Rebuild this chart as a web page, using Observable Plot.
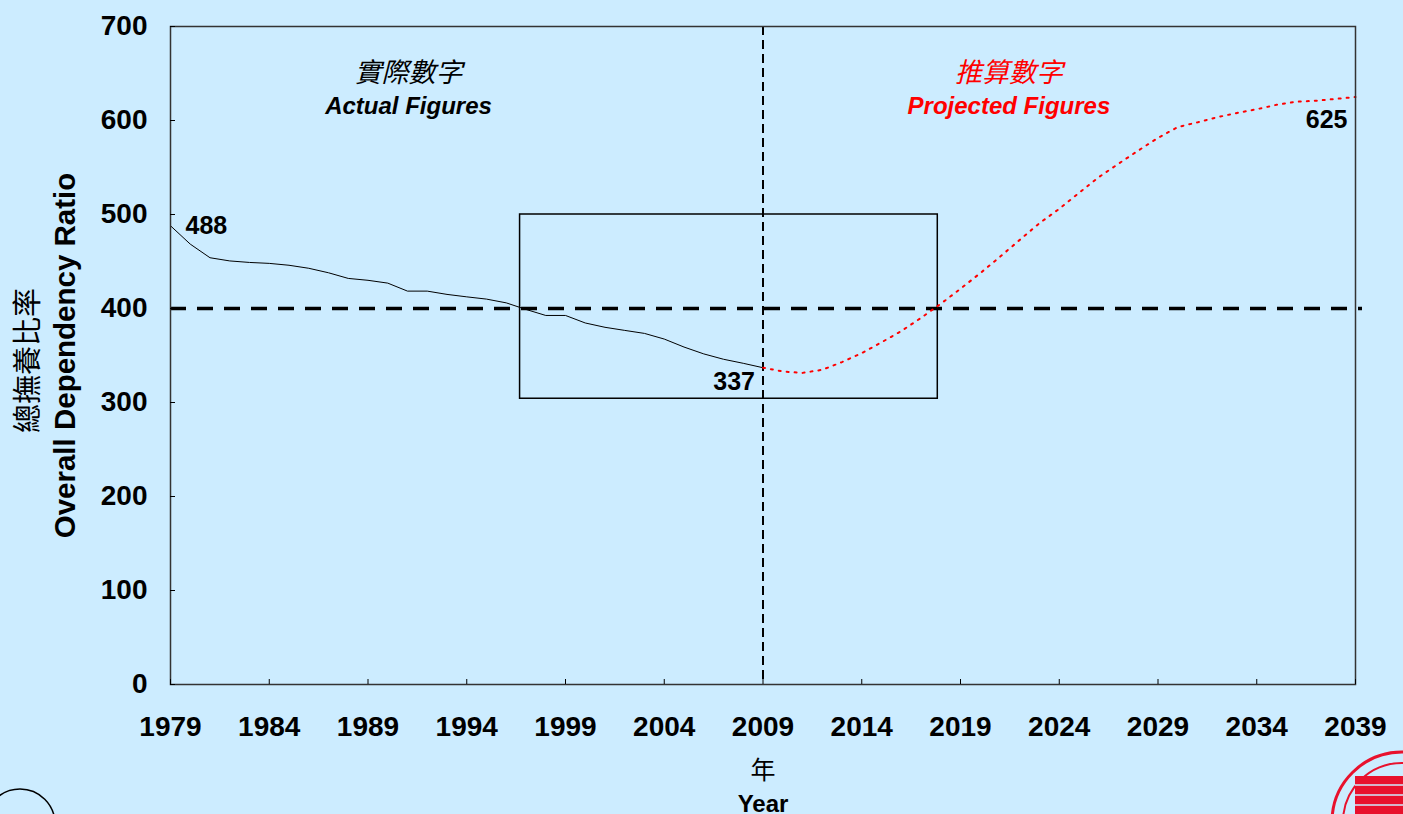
<!DOCTYPE html>
<html>
<head>
<meta charset="utf-8">
<script src="https://cdn.jsdelivr.net/npm/d3@7"></script>
<script src="https://cdn.jsdelivr.net/npm/@observablehq/plot@0.6"></script>
<style>
  html, body { margin: 0; padding: 0; background: #CCECFF; overflow: hidden; }
  #wrap { position: relative; width: 1403px; height: 814px; }
  #deco { position: absolute; left: 0; top: 0; pointer-events: none; }
</style>
</head>
<body>
<div id="wrap">
  <div id="chart"></div>
  <svg id="deco" width="1403" height="814">
    <circle cx="20" cy="824" r="35" fill="none" stroke="#000" stroke-width="1.5"/>
    <circle cx="1402" cy="822" r="70" fill="none" stroke="#E8112D" stroke-width="3"/>
    <circle cx="1402" cy="822" r="59" fill="none" stroke="#E8112D" stroke-width="2"/>
    <rect x="1355" y="776" width="60" height="50" fill="#E8112D"/>
    <line x1="1355" y1="785" x2="1403" y2="785" stroke="#CCECFF" stroke-width="1.5"/>
    <line x1="1355" y1="795" x2="1403" y2="795" stroke="#CCECFF" stroke-width="1.5"/>
    <line x1="1355" y1="805" x2="1403" y2="805" stroke="#CCECFF" stroke-width="1.5"/>
  </svg>
</div>
<script>
// ---- data ----
const actualStartYear = 1979;
const actualValues = [488, 468.5, 454, 450.6, 449, 448, 446, 442.8, 438, 432, 430, 427,
  418.5, 418.5, 415, 412.4, 410, 406, 399, 392.6, 392.6, 384.6, 380, 376.7, 373.5,
  367.5, 359, 351.7, 346, 341.7, 337];
const projectedStartYear = 2009;
const projectedValues = [337, 333, 331.5, 334.8, 343, 352.5, 364, 376, 390, 405, 421,
  437.6, 455, 473, 490.8, 506, 523, 539.7, 554, 568, 581.5, 593, 598, 603.5, 608, 612,
  616.7, 620, 621, 623, 625];
const xTicks = [1979, 1984, 1989, 1994, 1999, 2004, 2009, 2014, 2019, 2024, 2029, 2034, 2039];
const yTicks = [0, 100, 200, 300, 400, 500, 600, 700];
const thresholdValue = [400];
const dividerYear = [2009];
const boxYears = [1996.7, 2017.85];
const boxValues = [304, 500];
const endLabels = [
  {year: 1979, value: 488, text: "488"},
  {year: 2009, value: 337, text: "337"},
  {year: 2039, value: 625, text: "625"}
];
const sectionYears = [1991.05, 2021.45];
const sectionZh = ["實際數字", "推算數字"];
const sectionEn = ["Actual Figures", "Projected Figures"];
const sectionValues = [650, 615];
const yTitleEn = "Overall Dependency Ratio";
const yTitleZh = "總撫養比率";
const xTitleEn = "Year";
const xTitleZh = "年";

const actual = actualValues.map((v, i) => ({year: actualStartYear + i, value: v}));
const projected = projectedValues.map((v, i) => ({year: projectedStartYear + i, value: v}));

const latin = "'Liberation Sans', Arial, sans-serif";
const cjk = "'Noto Sans CJK TC', 'Noto Sans CJK SC', sans-serif";

const chart = Plot.plot({
  width: 1403,
  height: 814,
  marginLeft: 170,
  marginRight: 48,
  marginTop: 26,
  marginBottom: 130,
  style: {background: "#CCECFF", fontFamily: latin, color: "#000", overflow: "visible"},
  x: {domain: [1979, 2039]},
  y: {domain: [0, 700]},
  marks: [
    Plot.rect([0], {x1: () => boxYears[0], x2: () => boxYears[1], y1: () => boxValues[0], y2: () => boxValues[1],
      fill: "none", stroke: "#000", strokeWidth: 1.5}),
    Plot.ruleY(thresholdValue, {stroke: "#000", strokeWidth: 3.5, strokeDasharray: "16,11", insetRight: -7}),
    Plot.ruleX(dividerYear, {stroke: "#000", strokeWidth: 2, strokeDasharray: "9,5"}),
    Plot.line(actual, {x: "year", y: "value", stroke: "#000", strokeWidth: 1}),
    Plot.line(projected, {x: "year", y: "value", stroke: "#FF0000", strokeWidth: 2, strokeDasharray: "2,6"}),
    Plot.frame({stroke: "#333", strokeWidth: 1.5}),
    Plot.axisX({ticks: xTicks, tickFormat: d => String(d), tickSize: -5, tickPadding: 37,
      fontSize: 28, fontWeight: "bold", label: null, stroke: "#000"}),
    Plot.axisY({ticks: yTicks, tickFormat: d => String(d), tickSize: -5, tickPadding: 28,
      fontSize: 28, fontWeight: "bold", label: null, stroke: "#000"}),
    // end labels
    Plot.text([endLabels[0]], {x: "year", y: "value", text: "text", textAnchor: "start", dx: 15, dy: 0,
      fontSize: 25, fontWeight: "bold", fill: "#000"}),
    Plot.text([endLabels[1]], {x: "year", y: "value", text: "text", textAnchor: "end", dx: -8, dy: 14,
      fontSize: 25, fontWeight: "bold", fill: "#000"}),
    Plot.text([endLabels[2]], {x: "year", y: "value", text: "text", textAnchor: "end", dx: -8, dy: 23,
      fontSize: 25, fontWeight: "bold", fill: "#000"}),
    // section headings
    Plot.text(sectionZh, {x: (d, i) => sectionYears[i], y: () => sectionValues[0], text: d => d,
      fontFamily: cjk, fontSize: 27, fontStyle: "italic", fill: (d, i) => i === 0 ? "#000" : "#FF0000"}),
    Plot.text(sectionEn, {x: (d, i) => sectionYears[i], y: () => sectionValues[1], text: d => d,
      fontSize: 24, fontWeight: "bold", fontStyle: "italic", fill: (d, i) => i === 0 ? "#000" : "#FF0000"}),
    // y title
    Plot.text([yTitleEn], {frameAnchor: "left", textAnchor: "middle", dx: -105, rotate: -90, text: d => d,
      fontSize: 29.5, fontWeight: "bold", fill: "#000"}),
    Plot.text([yTitleZh], {frameAnchor: "left", textAnchor: "middle", dx: -142, dy: 5, rotate: -90, text: d => d,
      fontFamily: cjk, fontSize: 29, fill: "#000"}),
    // x title
    Plot.text([xTitleZh], {x: () => dividerYear[0], frameAnchor: "bottom", dy: 94, text: d => d,
      fontFamily: cjk, fontSize: 25, fill: "#000"}),
    Plot.text([xTitleEn], {x: () => dividerYear[0], frameAnchor: "bottom", dy: 127, text: d => d,
      fontSize: 24, fontWeight: "bold", fill: "#000"})
  ]
});
document.getElementById("chart").appendChild(chart);
</script>
</body>
</html>
